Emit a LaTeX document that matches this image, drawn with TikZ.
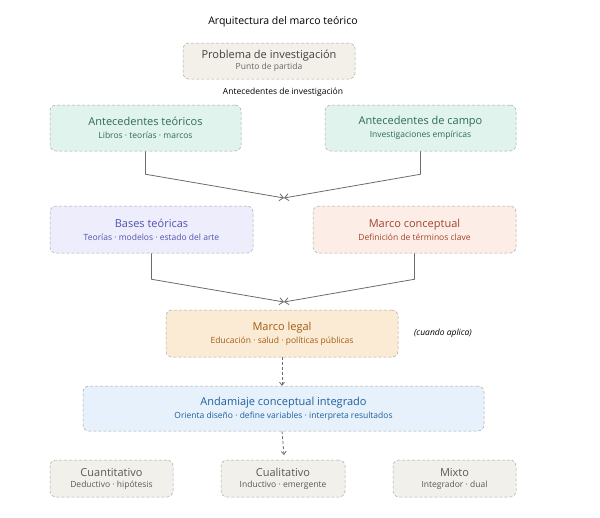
\documentclass[tikz,border=0pt]{standalone}
\usepackage{fontspec}
\setmainfont{Open Sans}
\usetikzlibrary{arrows.meta}
\definecolor{bd}{HTML}{A8A8A8}
\definecolor{fprob}{HTML}{F3F0EA}
\definecolor{fgr}{HTML}{E0F3EC}\definecolor{tgr}{HTML}{2E6B57}
\definecolor{fla}{HTML}{EDEDFC}\definecolor{tla}{HTML}{5252B2}
\definecolor{fco}{HTML}{FCEDE6}\definecolor{tco}{HTML}{A4442A}
\definecolor{fle}{HTML}{FCEBD4}\definecolor{tle}{HTML}{9E5C14}
\definecolor{fan}{HTML}{E6F1FB}\definecolor{tan}{HTML}{1F5F9E}
\definecolor{fbo}{HTML}{F2F0EA}
\newcommand{\bt}{\fontsize{11}{13}\selectfont}
\newcommand{\bsub}{\fontsize{8.5}{10}\selectfont}
\tikzset{
 box/.style={draw=bd, densely dashed, line width=0.5pt, rounded corners=6pt, align=center, inner sep=0pt},
 conn/.style={draw=gray!85!black, line width=0.8pt},
 merge/.style={conn, -{Straight Barb[length=4pt,width=7pt]}},
 dasharr/.style={conn, densely dashed, -{Straight Barb[length=3pt,width=5pt]}}
}
\newcommand{\bx}[8]{%
 \node[box, fill=#6, text=#7, minimum width=#4pt-#2pt, minimum height=#5pt-#3pt] (#1) at ({(#2+#4)/2},{(#3+#5)/2}) {#8};}
\begin{document}
\begin{tikzpicture}[x=1pt,y=-1pt]
\useasboundingbox (0,0) rectangle (600,517);
\node (title) at (283,22) {\fontsize{10.5}{12}\selectfont Arquitectura del marco teórico};
\bx{prob}{183}{43}{355}{79}{fprob}{black!75}{{\bt Problema de investigación}\\[-1pt]{\bsub\color{black!60}Punto de partida}}
\node (antlab) at (283,92) {\fontsize{8.5}{10}\selectfont Antecedentes de investigación};
\bx{teo}{50}{105}{241}{151}{fgr}{tgr}{{\bt Antecedentes teóricos}\\[1pt]{\bsub Libros · teorías · marcos}}
\bx{cam}{325}{105}{516}{151}{fgr}{tgr}{{\bt Antecedentes de campo}\\[1pt]{\bsub Investigaciones empíricas}}
\bx{bas}{50}{206}{253}{253}{fla}{tla}{{\bt Bases teóricas}\\[1pt]{\bsub Teorías · modelos · estado del arte}}
\bx{con}{313}{206}{516}{253}{fco}{tco}{{\bt Marco conceptual}\\[1pt]{\bsub Definición de términos clave}}
\bx{leg}{166}{310}{398}{357}{fle}{tle}{{\bt Marco legal}\\[1pt]{\bsub Educación · salud · políticas públicas}}
\node (cua) at (443,333) {\fontsize{8.5}{10}\selectfont\itshape (cuando aplica)};
\bx{and}{83}{386}{484}{431}{fan}{tan}{{\bt Andamiaje conceptual integrado}\\[1pt]{\bsub Orienta diseño · define variables · interpreta resultados}}
\bx{cuan}{50}{460}{173}{497}{fbo}{black!65}{{\bt Cuantitativo}\\[-1pt]{\bsub Deductivo · hipótesis}}
\bx{cual}{221}{460}{345}{497}{fbo}{black!65}{{\bt Cualitativo}\\[-1pt]{\bsub Inductivo · emergente}}
\bx{mix}{393}{460}{516}{497}{fbo}{black!65}{{\bt Mixto}\\[-1pt]{\bsub Integrador · dual}}
\coordinate (m1) at (284,198);
\coordinate (m2) at (284,302);
\coordinate (a3) at (284,455);
\draw[merge] (teo.south) -- ++(0,23) -- (m1);
\draw[merge] (cam.south) -- ++(0,23) -- (m1);
\draw[merge] (bas.south) -- ++(0,26) -- (m2);
\draw[merge] (con.south) -- ++(0,26) -- (m2);
\draw[dasharr] (leg.south) -- (and.north -| leg.south);
\draw[dasharr] (and.south -| leg.south) -- (a3);
\end{tikzpicture}
\end{document}
